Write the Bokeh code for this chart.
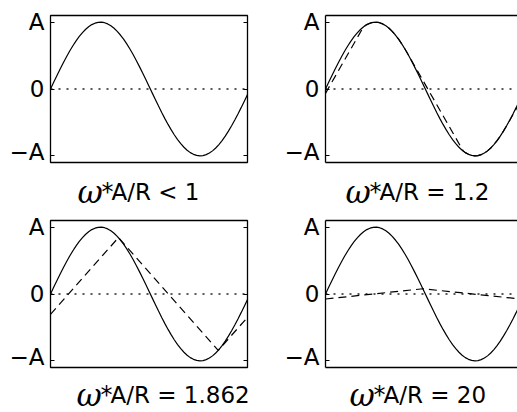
from bokeh.plotting import figure
from bokeh.models import Range1d, Span, Label, LinearAxis, FixedTicker
from bokeh.layouts import row, column
from bokeh.embed import file_html
from bokeh.resources import INLINE

# sample times (rad) and the input sine
t = [0.0, 0.1, 0.2, 0.3, 0.4, 0.5, 0.6, 0.7, 0.8, 0.9, 1.0, 1.1, 1.2, 1.3, 1.4, 1.5,
     1.6, 1.7, 1.8, 1.9, 2.0, 2.1, 2.2, 2.3, 2.4, 2.5, 2.6, 2.7, 2.8, 2.9, 3.0, 3.1,
     3.2, 3.3, 3.4, 3.5, 3.6, 3.7, 3.8, 3.9, 4.0, 4.1, 4.2, 4.3, 4.4, 4.5, 4.6, 4.7,
     4.8, 4.9, 5.0, 5.1, 5.2, 5.3, 5.4, 5.5, 5.6, 5.7, 5.8, 5.9, 6.0, 6.1, 6.2]
u = [0.000, 0.100, 0.199, 0.296, 0.389, 0.479, 0.565, 0.644, 0.717, 0.783, 0.841,
     0.891, 0.932, 0.964, 0.985, 0.997, 1.000, 0.992, 0.974, 0.946, 0.909, 0.863,
     0.808, 0.746, 0.675, 0.598, 0.516, 0.427, 0.335, 0.239, 0.141, 0.042, -0.058,
     -0.158, -0.256, -0.351, -0.443, -0.530, -0.612, -0.688, -0.757, -0.818, -0.872,
     -0.916, -0.952, -0.978, -0.994, -1.000, -0.996, -0.982, -0.959, -0.926, -0.883,
     -0.832, -0.773, -0.706, -0.631, -0.551, -0.465, -0.374, -0.279, -0.182, -0.083]

# rate-limited outputs (dashed)
x_12 = [0, 1.193, 1.3, 1.4, 1.5, 1.6, 1.7, 1.8, 1.9, 2.0, 2.1, 2.2, 2.3, 2.4, 2.5, 2.556,
        4.335, 4.4, 4.5, 4.6, 4.7, 4.8, 4.9, 5.0, 5.1, 5.2, 5.3, 5.4, 5.5, 5.6, 5.698, 6.2]
y_12 = [-0.065, 0.929, 0.964, 0.985, 0.997, 1.000, 0.992, 0.974, 0.946, 0.909, 0.863,
        0.808, 0.746, 0.675, 0.598, 0.553, -0.929, -0.952, -0.978, -0.994, -1.000,
        -0.996, -0.982, -0.959, -0.926, -0.883, -0.832, -0.773, -0.706, -0.631, -0.553,
        -0.134]
x_1862 = [0, 2.138, 5.279, 6.2]
y_1862 = [-0.305, 0.844, -0.844, -0.349]
x_20 = [0, 3.063, 6.2]
y_20 = [-0.075, 0.0785, -0.078]

labels = ["A/R < 1", "A/R = 1.2", "A/R = 1.862", "A/R = 20"]
tick_vals = [-1, 0, 1]
tick_text = ["\u2212A", "0", "A"]

FONT = "DejaVu Sans"
FS = "23px"
FW = 197          # width of a full box in px
BH = 147          # height of a box in px
T_END = 6.2
Y_LIM = 1.1
BLACK = "black"
LW = 1.3


def plot_panel(dashed, right_col, bottom_row):
    fw = 194 if right_col else FW
    x_end = T_END * fw / FW
    p = figure(frame_width=fw, frame_height=BH,
               x_range=Range1d(0, x_end), y_range=Range1d(-Y_LIM, Y_LIM),
               x_axis_location=None, output_backend="svg", toolbar_location=None,
               min_border_left=42 if right_col else 50,
               min_border_right=0 if right_col else 34,
               min_border_top=7 if bottom_row else 15, min_border_bottom=2)
    p.grid.visible = False
    p.background_fill_color = "white"
    p.border_fill_color = "white"

    if right_col:
        p.outline_line_color = None
        for loc in ("above", "below"):
            ax = LinearAxis(ticker=FixedTicker(ticks=[]), major_tick_in=0,
                            major_tick_out=0, minor_tick_in=0, minor_tick_out=0,
                            major_label_standoff=0, axis_line_color=BLACK,
                            axis_line_width=LW)
            p.add_layout(ax, loc)
    else:
        p.outline_line_color = BLACK
        p.outline_line_alpha = 1
        p.outline_line_width = LW
        ax = LinearAxis(ticker=FixedTicker(ticks=tick_vals),
                        major_label_overrides={v: "" for v in tick_vals},
                        major_tick_in=4, major_tick_out=0, minor_tick_in=0,
                        minor_tick_out=0, axis_line_color=None,
                        major_tick_line_color=BLACK, major_label_standoff=0)
        p.add_layout(ax, "right")

    ya = p.yaxis[0]
    ya.ticker = FixedTicker(ticks=tick_vals)
    ya.major_label_overrides = dict(zip(tick_vals, tick_text))
    ya.major_label_text_font = FONT
    ya.major_label_text_font_size = FS
    ya.major_label_text_color = BLACK
    ya.major_label_standoff = 6
    ya.major_tick_in = 4
    ya.major_tick_out = 0
    ya.minor_tick_in = 0
    ya.minor_tick_out = 0
    ya.major_tick_line_color = BLACK
    if right_col:
        ya.axis_line_color = BLACK
        ya.axis_line_width = LW
    else:
        ya.axis_line_color = None

    p.add_layout(Span(location=0, dimension="width", line_color="#222222",
                      line_width=1.3, line_dash="2 6", level="underlay"))
    p.line(t, u, line_color=BLACK, line_width=1.2)
    if dashed is not None:
        p.line(dashed[0], dashed[1], line_color=BLACK, line_width=1.2,
               line_dash="8 5")
    return p


def text_panel(label, right_col, bottom_row, text_dx):
    w = 236 if right_col else 281
    h = 43 if bottom_row else 49
    p = figure(width=w, height=h, x_range=Range1d(0, w), y_range=Range1d(0, h),
               x_axis_location=None, y_axis_location=None, min_border=0,
               output_backend="svg", toolbar_location=None)
    p.grid.visible = False
    p.outline_line_color = None
    p.background_fill_color = "white"
    p.border_fill_color = "white"
    x0 = (42 if right_col else 50) + text_dx
    ly = 18 if bottom_row else 22
    p.add_layout(Label(x=x0, y=ly, text="\u03c9",
                       text_font="DejaVu Serif", text_font_style="italic",
                       text_font_size="31px", text_baseline="alphabetic",
                       text_align="left", text_color=BLACK))
    p.add_layout(Label(x=x0 + 24, y=ly, text="*",
                       text_font=FONT, text_font_size="24px",
                       text_baseline="alphabetic", text_align="left",
                       text_color=BLACK))
    p.add_layout(Label(x=x0 + 34, y=ly, text=label,
                       text_font=FONT, text_font_size=FS,
                       text_baseline="alphabetic", text_align="left",
                       text_color=BLACK))
    return p


p1 = plot_panel(None, False, False)
p2 = plot_panel((x_12, y_12), True, False)
p3 = plot_panel((x_1862, y_1862), False, True)
p4 = plot_panel((x_20, y_20), True, True)
l1 = text_panel(labels[0], False, False, 27)
l2 = text_panel(labels[1], True, False, 22)
l3 = text_panel(labels[2], False, True, 26)
l4 = text_panel(labels[3], True, True, 26)

layout = column(row(p1, p2), row(l1, l2), row(p3, p4), row(l3, l4))
open("out.html", "w").write(file_html(layout, INLINE))
